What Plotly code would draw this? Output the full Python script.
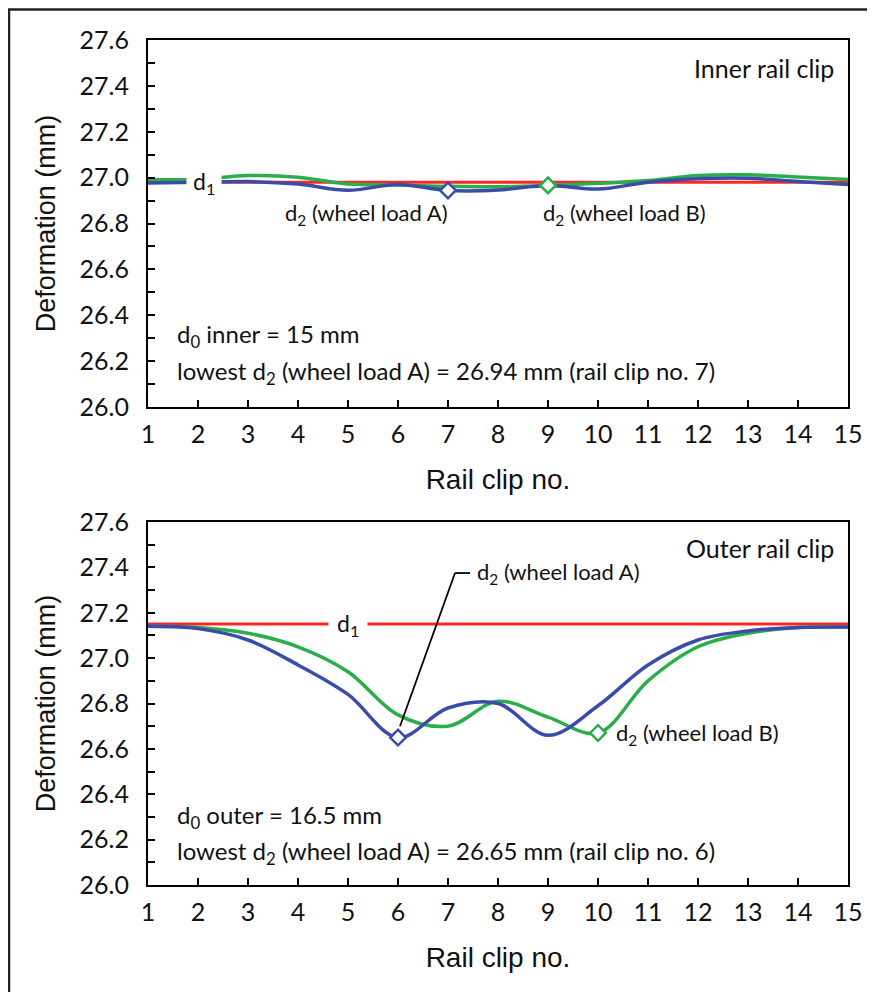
import plotly.graph_objects as go

clips = list(range(1, 16))
y_ticks = [26.0, 26.2, 26.4, 26.6, 26.8, 27.0, 27.2, 27.4, 27.6]

# Inner rail clip (top)
inner_d1 = [26.98] * 15
inner_loadA = [26.977, 26.98, 26.983, 26.972, 26.945, 26.970, 26.944, 26.946,
               26.966, 26.950, 26.98, 26.995, 26.997, 26.983, 26.97]
inner_loadB = [26.992, 26.992, 27.009, 27.002, 26.972, 26.968, 26.962, 26.960,
               26.966, 26.975, 26.987, 27.009, 27.012, 27.003, 26.992]

# Outer rail clip (bottom)
outer_d1 = [27.15] * 15
outer_loadA = [27.14, 27.13, 27.08, 26.97, 26.84, 26.65, 26.78, 26.80,
               26.66, 26.79, 26.97, 27.08, 27.12, 27.135, 27.137]
outer_loadB = [27.14, 27.135, 27.11, 27.05, 26.94, 26.75, 26.70, 26.81,
               26.74, 26.67, 26.90, 27.05, 27.11, 27.135, 27.137]

inner_minA_idx = 6   # clip 7
inner_markB_idx = 8  # clip 9
outer_minA_idx = 5   # clip 6
outer_markB_idx = 9  # clip 10

RED = "#FF2626"
GREEN = "#2BAE4A"
BLUE = "#3A4CA8"
TFONT = "Lato, Carlito, Calibri, sans-serif"
AFONT = "Liberation Sans, Arial, sans-serif"
INK = "#111"

fig = go.Figure()

def add_panel(xa, ya, d1, a, b, ia, ib):
    fig.add_trace(go.Scatter(x=clips, y=d1, mode="lines", line=dict(color=RED, width=3),
                             xaxis=xa, yaxis=ya, showlegend=False, hoverinfo="skip"))
    fig.add_trace(go.Scatter(x=clips, y=b, mode="lines", line=dict(color=GREEN, width=3.5, shape="spline", smoothing=1.0),
                             xaxis=xa, yaxis=ya, showlegend=False))
    fig.add_trace(go.Scatter(x=clips, y=a, mode="lines", line=dict(color=BLUE, width=3.5, shape="spline", smoothing=1.0),
                             xaxis=xa, yaxis=ya, showlegend=False))
    fig.add_trace(go.Scatter(x=[clips[ib]], y=[b[ib]], mode="markers",
                             marker=dict(symbol="diamond", size=12, color="white", line=dict(color=GREEN, width=2.5)),
                             xaxis=xa, yaxis=ya, showlegend=False))
    fig.add_trace(go.Scatter(x=[clips[ia]], y=[a[ia]], mode="markers",
                             marker=dict(symbol="diamond", size=12, color="white", line=dict(color=BLUE, width=2.5)),
                             xaxis=xa, yaxis=ya, showlegend=False))

add_panel("x", "y", inner_d1, inner_loadA, inner_loadB, inner_minA_idx, inner_markB_idx)
add_panel("x2", "y2", outer_d1, outer_loadA, outer_loadB, outer_minA_idx, outer_markB_idx)

xax = dict(range=[1, 15], dtick=1, tick0=1, showline=True, linecolor="black", linewidth=2, mirror=True,
           ticks="inside", ticklen=7, tickwidth=1.5, tickcolor="black", showgrid=False, zeroline=False,
           tickfont=dict(family=TFONT, size=25, color=INK), ticklabelstandoff=4,
           title=dict(text="Rail clip no.", font=dict(family=AFONT, size=28, color=INK), standoff=22))
yax = dict(range=[26.0, 27.6], tickvals=y_ticks, tickformat=".1f", showline=True, linecolor="black", linewidth=2,
           mirror=True, ticks="inside", ticklen=7, tickwidth=1.5, tickcolor="black", showgrid=False, zeroline=False,
           minor=dict(dtick=0.1, tick0=26.0, ticks="inside", ticklen=7, tickwidth=1.5, tickcolor="black", showgrid=False),
           tickfont=dict(family=TFONT, size=25, color=INK), ticklabelstandoff=12,
           title=dict(text="Deformation (mm)", font=dict(family=AFONT, size=27, color=INK), standoff=16))

# page has an 8px body margin; compensate so the plot sits at page x 148-848, y 40-885
top_dom = [(885 - 407) / 845, 1.0]
bot_dom = [0.0, (885 - 522) / 845]

fig.update_layout(
    width=867, height=984,
    margin=dict(l=140, r=27, t=32, b=107),
    paper_bgcolor="white", plot_bgcolor="white",
    xaxis=dict(xax, anchor="y"),
    yaxis=dict(yax, domain=top_dom, anchor="x"),
    xaxis2=dict(xax, anchor="y2"),
    yaxis2=dict(yax, domain=bot_dom, anchor="x2"),
)

def txt(text, x, y, xref, yref, xanchor="left", size=24, bg=None, pad=1):
    fig.add_annotation(text=text, x=x, y=y, xref=xref, yref=yref, xanchor=xanchor, yanchor="middle",
                       showarrow=False, font=dict(family=TFONT, size=size, color=INK),
                       bgcolor=bg, borderpad=pad)

# top panel text
txt("Inner rail clip", 14.76, 27.479, "x", "y", xanchor="right", size=25)
txt("d<sub>1</sub>", 2.12, inner_d1[0], "x", "y", xanchor="center", size=23, bg="white", pad=6)
txt("d<sub>2</sub> (wheel load A)", 5.36, 26.84, "x", "y", xanchor="center", size=22)
txt("d<sub>2</sub> (wheel load B)", 10.52, 26.84, "x", "y", xanchor="center", size=22)
txt("d<sub>0</sub> inner = 15 mm", 1.54, 26.31, "x", "y", size=24)
txt("lowest d<sub>2</sub> (wheel load A) = 26.94 mm (rail clip no. 7)", 1.54, 26.15, "x", "y", size=24)

# bottom panel text
txt("Outer rail clip", 14.76, 27.486, "x2", "y2", xanchor="right", size=25)
txt("d<sub>1</sub>", 4.99, outer_d1[0], "x2", "y2", xanchor="center", size=23, bg="white", pad=8)
txt("d<sub>2</sub> (wheel load A)", 7.54, 27.375, "x2", "y2", size=22)
txt("d<sub>2</sub> (wheel load B)", 10.32, 26.665, "x2", "y2", size=22)
txt("d<sub>0</sub> outer = 16.5 mm", 1.54, 26.30, "x2", "y2", size=24)
txt("lowest d<sub>2</sub> (wheel load A) = 26.65 mm (rail clip no. 6)", 1.54, 26.145, "x2", "y2", size=24)

# leader line for wheel load A (bottom)
fig.add_shape(type="line", xref="x2", yref="y2", x0=6.04, y0=26.70, x1=7.14, y1=27.375,
              line=dict(color="black", width=1.8))
fig.add_shape(type="line", xref="x2", yref="y2", x0=7.14, y0=27.375, x1=7.44, y1=27.375,
              line=dict(color="black", width=1.8))

# outer frame
fig.add_shape(type="rect", xref="paper", yref="paper",
              x0=(1 - 140) / 700, x1=(890 - 140) / 700, y0=(877 - 1010) / 845, y1=(877 - 1.5) / 845,
              line=dict(color="#222", width=2.5), fillcolor="rgba(0,0,0,0)", layer="below")

fig.write_html("out.html")
